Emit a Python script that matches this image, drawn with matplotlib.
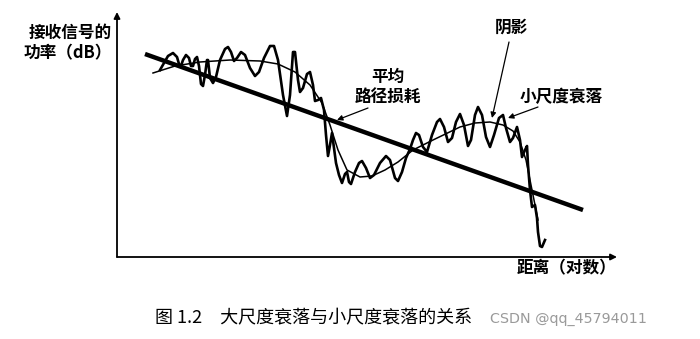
import matplotlib
matplotlib.use("Agg")
import matplotlib.pyplot as plt

plt.rcParams['font.family'] = ['Noto Sans CJK SC', 'DejaVu Sans']

# chart units: distance from the y axis, power above the x axis
loss_dist = [28, 466]
loss_power = [203, 47]

shadow_dist = [36, 58, 83, 113, 143, 161, 178, 193, 205, 213, 221, 230, 243, 255,
               268, 281, 296, 316, 343, 358, 373, 386, 396, 403, 409, 415, 421]
shadow_power = [184, 191, 195, 197, 196, 193, 185, 172, 154, 132, 107, 87, 80, 81,
                87, 95, 107, 117, 130, 134, 135, 132, 126, 115, 97, 67, 37]

fading_dist = [43, 47, 51, 56, 60, 62, 64, 66, 69, 72, 74, 76, 78, 80, 82, 84, 86, 88,
               90, 91, 93, 96, 99, 103, 108, 111, 114, 117, 120, 124, 128, 133, 138,
               142, 147, 153, 157, 161, 166, 170, 173, 176, 178, 181, 183, 186, 190,
               193, 196, 198, 201, 204, 207, 209, 211, 213, 215, 217, 219, 222, 225,
               228, 230, 232, 234, 238, 242, 245, 249, 253, 257, 263, 269, 273, 278,
               281, 285, 289, 293, 296, 299, 302, 306, 310, 315, 320, 323, 327, 331,
               335, 339, 343, 347, 351, 354, 358, 361, 365, 369, 373, 377, 382, 386,
               389, 393, 396, 400, 403, 405, 408, 410, 411, 413, 415, 418, 420, 421,
               423, 425, 428]
fading_power = [187, 194, 201, 204, 200, 193, 191, 197, 202, 199, 191, 191, 198, 200,
                191, 173, 171, 182, 197, 197, 179, 174, 180, 197, 208, 210, 205, 196,
                199, 205, 202, 189, 181, 185, 199, 211, 211, 197, 162, 141, 162, 205,
                205, 177, 165, 169, 183, 185, 172, 156, 157, 159, 147, 122, 101, 112,
                124, 109, 94, 82, 74, 83, 85, 75, 73, 85, 94, 96, 89, 79, 82, 94, 101,
                97, 79, 76, 85, 99, 108, 117, 124, 122, 110, 105, 122, 135, 138, 130,
                115, 119, 135, 143, 132, 111, 117, 142, 150, 142, 120, 110, 122, 139,
                142, 129, 115, 119, 130, 117, 100, 107, 111, 92, 67, 50, 52, 39, 25,
                11, 10, 17]

ylabel_lines = ['接收信号的', '功率（dB）']
xlabel = '距离（对数）'
caption = '图 1.2　大尺度衰落与小尺度衰落的关系'
watermark = 'CSDN @qq_45794011'

fig = plt.figure(figsize=(7, 3.39), dpi=100)
ax = fig.add_axes([117 / 700, 82 / 339, 500 / 700, 245 / 339])
ax.set_xlim(0, 500)
ax.set_ylim(0, 245)
ax.axis('off')

# axes with arrow heads
ax.annotate('', xy=(1.0, 0), xytext=(0, 0), xycoords='axes fraction',
            arrowprops=dict(arrowstyle='-|>', lw=1.3, color='black', mutation_scale=9,
                            shrinkA=0, shrinkB=0))
ax.annotate('', xy=(0, 1.0), xytext=(0, 0), xycoords='axes fraction',
            arrowprops=dict(arrowstyle='-|>', lw=1.3, color='black', mutation_scale=9,
                            shrinkA=0, shrinkB=0))

ax.plot(loss_dist, loss_power, color='black', lw=3.2, solid_capstyle='butt')
ax.plot(shadow_dist, shadow_power, color='black', lw=1.1)
ax.plot(fading_dist, fading_power, color='black', lw=1.9, solid_joinstyle='round')

txt = dict(fontsize=12, fontweight='bold', ha='center', va='center')
ax.text(-47, 224, ylabel_lines[0], **txt)
ax.text(-49, 204, ylabel_lines[1], **txt)
ax.text(450, -11, xlabel, **txt)
ax.text(394, 229, '阴影', **txt)
ax.text(444, 160, '小尺度衰落', **txt)
ax.text(271, 180, '平均', **txt)
ax.text(271, 160, '路径损耗', **txt)

arrow = dict(arrowstyle='-|>', lw=0.9, color='black', mutation_scale=8,
             shrinkA=0, shrinkB=0)
ax.annotate('', xy=(375, 139), xytext=(392, 215), arrowprops=arrow)
ax.annotate('', xy=(391, 139), xytext=(421, 150), arrowprops=arrow)
ax.annotate('', xy=(220, 137), xytext=(251, 149), arrowprops=arrow)

fig.text(155 / 700, 1 - 318 / 339, caption, fontsize=13, fontweight='medium',
         ha='left', va='center')
fig.text(490 / 700, 1 - 319 / 339, watermark, fontsize=10.3, color='#9a9a9a',
         ha='left', va='center', family='DejaVu Sans')

fig.savefig('out.png', dpi=100)
